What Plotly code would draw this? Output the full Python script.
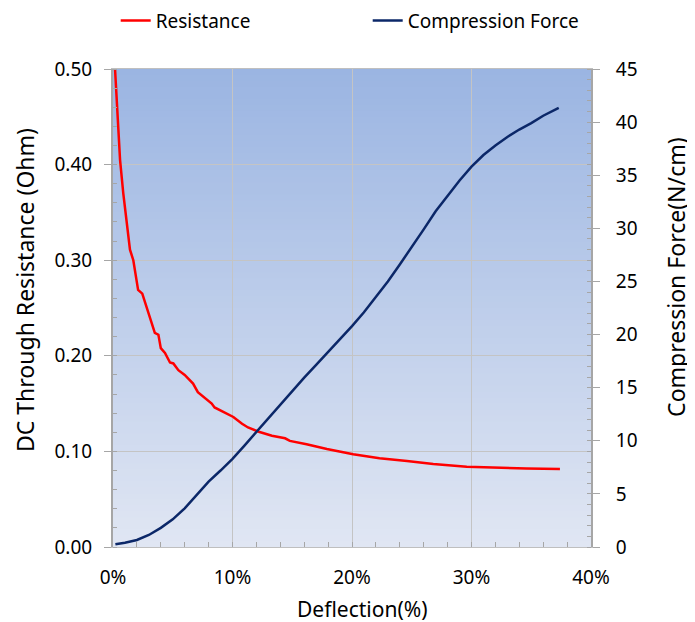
import plotly.graph_objects as go

# ---- data ----
res_deflection = [0.17, 0.33, 0.59, 0.86, 1.15, 1.42, 1.7, 1.9, 2.1, 2.45, 2.8, 3.2, 3.5, 3.8,
                  4.0, 4.35, 4.77, 5.05, 5.47, 6.0, 6.7, 7.1, 7.7, 8.26, 8.5, 9.2, 10.07, 10.8,
                  11.3, 12.2, 13.3, 14.4, 14.8, 16.2, 17.9, 20.1, 22.3, 24.6, 26.8, 29.6, 32.4,
                  34.6, 37.4]
resistance = [0.50, 0.46, 0.405, 0.37, 0.342, 0.311, 0.30, 0.285, 0.269, 0.265, 0.251, 0.234,
              0.224, 0.222, 0.208, 0.203, 0.193, 0.192, 0.185, 0.18, 0.171, 0.162, 0.156, 0.150,
              0.146, 0.1415, 0.136, 0.129, 0.125, 0.1206, 0.1164, 0.1137, 0.111, 0.1074, 0.1025,
              0.097, 0.0928, 0.090, 0.0868, 0.084, 0.0826, 0.082, 0.0816]

force_deflection = [0.2, 1, 2, 3, 4, 5, 6, 7, 8, 9, 10, 11, 12, 13, 14, 15, 16, 17, 18, 19, 20,
                    21, 22, 23, 24, 25, 26, 27, 28, 29, 30, 31, 32, 33, 34, 35, 36, 37.3]
force = [0.25, 0.4, 0.66, 1.13, 1.8, 2.6, 3.64, 4.9, 6.15, 7.2, 8.3, 9.55, 10.85, 12.15, 13.45,
         14.7, 15.95, 17.15, 18.35, 19.55, 20.8, 22.1, 23.5, 25.0, 26.6, 28.2, 29.9, 31.6, 33.1,
         34.5, 35.8, 36.9, 37.8, 38.6, 39.3, 39.9, 40.6, 41.35]

series_names = ["Resistance", "Compression Force"]
x_title = "Deflection(%)"
y_title = "DC Through Resistance (Ohm)"
y2_title = "Compression Force(N/cm)"

FONT = "Noto Sans"
RED = "#ff0000"
NAVY = "#0b2768"

W, H = 687, 614
L, T, PW, PH = 105, 61, 478, 478

fig = go.Figure()
fig.add_trace(go.Scatter(x=res_deflection, y=resistance, mode="lines", name=series_names[0],
                         line=dict(color=RED, width=2.5), legend="legend", yaxis="y"))
fig.add_trace(go.Scatter(x=force_deflection, y=force, mode="lines", name=series_names[1],
                         line=dict(color=NAVY, width=2.5), legend="legend2", yaxis="y2"))

# gradient background strips
top = (155, 181, 226)
bot = (224, 230, 243)
N = 80
shapes = []
for i in range(N):
    t = i / (N - 1)
    c = tuple(round(bot[k] + (top[k] - bot[k]) * t) for k in range(3))
    shapes.append(dict(type="rect", xref="x domain", yref="y domain",
                       x0=0, x1=1, y0=i / N, y1=(i + 1) / N + 0.002,
                       fillcolor="rgb(%d,%d,%d)" % c, line=dict(width=0), layer="below"))

tickfont = dict(family=FONT, size=19, color="#000000")

annotations = [
    dict(text=x_title, xref="paper", yref="paper", x=0.521, y=0, yshift=-62,
         xanchor="center", yanchor="middle", showarrow=False,
         font=dict(family=FONT, size=21, color="#000000")),
    dict(text=y_title, xref="paper", yref="paper", x=0, y=0.5377, xshift=-88, textangle=-90,
         xanchor="center", yanchor="middle", showarrow=False,
         font=dict(family=FONT, size=23, color="#000000")),
    dict(text=y2_title, xref="paper", yref="paper", x=1, y=0.563, xshift=85, textangle=-90,
         xanchor="center", yanchor="middle", showarrow=False,
         font=dict(family=FONT, size=23, color="#000000")),
]

fig.update_layout(
    width=W, height=H,
    margin=dict(l=L, r=W - L - PW, t=T, b=H - T - PH, autoexpand=False),
    paper_bgcolor="white", plot_bgcolor="white",
    shapes=shapes, annotations=annotations,
    font=dict(family=FONT, color="#000000"),
    xaxis=dict(range=[0, 40], dtick=10, ticksuffix="%", tickfont=tickfont,
               showgrid=True, gridcolor="#c4c4c4", gridwidth=1,
               showline=True, linecolor="#bfbfbf", linewidth=1, mirror=True,
               ticks="inside", ticklen=5, tickcolor="#a6a6a6",
               minor=dict(dtick=2, ticks="inside", ticklen=5, tickcolor="#a6a6a6", showgrid=False),
               zeroline=False, ticklabelstandoff=13, automargin=False),
    yaxis=dict(range=[0, 0.5], dtick=0.1, tickformat=".2f", tickfont=tickfont,
               showgrid=True, gridcolor="#c4c4c4", gridwidth=1,
               showline=True, linecolor="#a6a6a6", linewidth=2,
               ticks="outside", ticklen=7, tickcolor="#a6a6a6",
               minor=dict(dtick=0.02, ticks="inside", ticklen=4, tickcolor="#a6a6a6", showgrid=False),
               zeroline=False, ticklabelstandoff=8, automargin=False),
    yaxis2=dict(range=[0, 45], dtick=5, tickfont=tickfont, overlaying="y", side="right",
                showgrid=False, showline=True, linecolor="#a6a6a6", linewidth=2,
                ticks="outside", ticklen=7, tickcolor="#a6a6a6",
                minor=dict(dtick=1, ticks="inside", ticklen=4, tickcolor="#a6a6a6", showgrid=False),
                zeroline=False, ticklabelstandoff=12, automargin=False),
    legend=dict(orientation="h", xref="container", x=107.7 / W, xanchor="left",
                yref="container", y=1 - 12.7 / H, yanchor="middle",
                font=dict(family=FONT, size=19), itemwidth=30, bgcolor="rgba(0,0,0,0)"),
    legend2=dict(orientation="h", xref="container", x=359.7 / W, xanchor="left",
                 yref="container", y=1 - 12.7 / H, yanchor="middle",
                 font=dict(family=FONT, size=19), itemwidth=30, bgcolor="rgba(0,0,0,0)"),
    showlegend=True,
)

fig.write_html("out.html")
